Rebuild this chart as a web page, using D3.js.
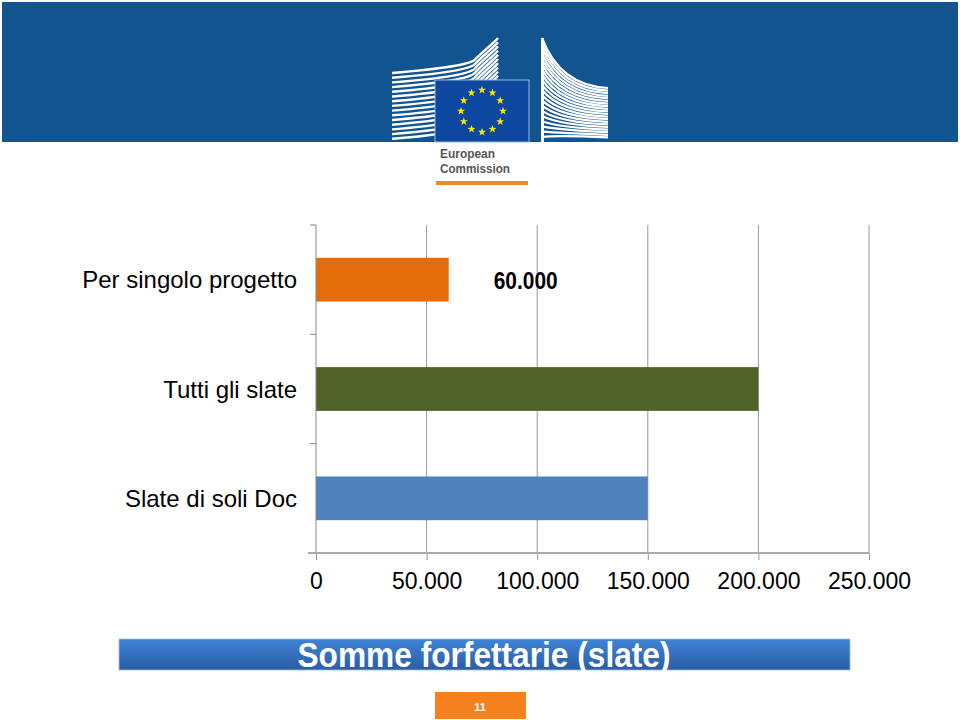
<!DOCTYPE html>
<html>
<head>
<meta charset="utf-8">
<script src="https://cdn.jsdelivr.net/npm/d3@7"></script>
<style>
  html, body { margin: 0; padding: 0; background: #fff; }
  svg { display: block; }
</style>
</head>
<body>
<svg id="chart" width="960" height="720"></svg>
<script>
// ---- data ----
const categories = ["Per singolo progetto", "Tutti gli slate", "Slate di soli Doc"];
const values = [60000, 200000, 150000];
const labeledBars = [0];
const tickValues = [0, 50000, 100000, 150000, 200000, 250000];
const chartTitle = "Somme forfettarie (slate)";
const pageNumber = "11";

// ---- styles ----
const barColors = ["#e46c0a", "#4f6228", "#4f81bd"];

const it = d3.formatLocale({ decimal: ",", thousands: ".", grouping: [3], currency: ["€", ""] });
const fmt = it.format(",");

const svg = d3.select("#chart");

// ---- header band with logo ----
svg.append("rect").attr("x", 2).attr("y", 2).attr("width", 956).attr("height", 140).attr("fill", "#11548f");

const logo = svg.append("g");
// left building stripes
const leftClip = svg.append("clipPath").attr("id", "lclip");
leftClip.append("rect").attr("x", 392).attr("y", 30).attr("width", 107).attr("height", 112);
const lg = logo.append("g").attr("clip-path", "url(#lclip)");
for (let i = 0; i < 15; i++) {
  const y0 = 73 + i * 4.7;
  const y1 = 38 + i * 4.2;
  lg.append("path")
    .attr("d", `M392,${y0} C430,${y0 - 3} 470,${y0 - 8} 475,${(y0 + y1) / 2 + 4} S495,${y1 + 4} 498,${y1}`)
    .attr("fill", "none").attr("stroke", "#fff").attr("stroke-width", 2.4);
}
// right building stripes
const rightClip = svg.append("clipPath").attr("id", "rclip");
rightClip.append("rect").attr("x", 541).attr("y", 30).attr("width", 68).attr("height", 112);
const rg = logo.append("g").attr("clip-path", "url(#rclip)");
rg.append("rect").attr("x", 541).attr("y", 38).attr("width", 3).attr("height", 104).attr("fill", "#fff");
for (let i = 0; i < 20; i++) {
  const y0 = 38 + i * 5.2;
  const y1 = 88 + i * 2.6;
  rg.append("path")
    .attr("d", `M542,${y0} Q560,${y1 - 2} 608,${y1}`)
    .attr("fill", "none").attr("stroke", "#fff").attr("stroke-width", 2.2);
}
// flag
logo.append("rect").attr("x", 435).attr("y", 80).attr("width", 94).attr("height", 62)
  .attr("fill", "#0d47a0").attr("stroke", "#9ab8dd").attr("stroke-width", 1);
const starPath = (cx, cy, R) => {
  const r = R * 0.4;
  let p = "";
  for (let k = 0; k < 10; k++) {
    const a = -Math.PI / 2 + k * Math.PI / 5;
    const rr = k % 2 === 0 ? R : r;
    p += (k === 0 ? "M" : "L") + (cx + rr * Math.cos(a)).toFixed(2) + "," + (cy + rr * Math.sin(a)).toFixed(2);
  }
  return p + "Z";
};
for (let k = 0; k < 12; k++) {
  const a = k * Math.PI / 6;
  logo.append("path").attr("d", starPath(482 + 21 * Math.sin(a), 111 - 21 * Math.cos(a), 4.2)).attr("fill", "#ffe600");
}
logo.append("text").attr("x", 440).attr("y", 158).text("European")
  .attr("font-family", "Liberation Sans, Arial, sans-serif").attr("font-size", 12.5).attr("font-weight", "bold")
  .attr("fill", "#555").attr("textLength", 55).attr("lengthAdjust", "spacingAndGlyphs");
logo.append("text").attr("x", 440).attr("y", 173).text("Commission")
  .attr("font-family", "Liberation Sans, Arial, sans-serif").attr("font-size", 12.5).attr("font-weight", "bold")
  .attr("fill", "#555").attr("textLength", 70).attr("lengthAdjust", "spacingAndGlyphs");
logo.append("rect").attr("x", 436).attr("y", 181).attr("width", 92).attr("height", 4).attr("fill", "#f08a1c");

// ---- chart ----
const x = d3.scaleLinear().domain([0, 250000]).range([316, 869]);
const y = d3.scaleBand().domain(categories).range([225, 553]).paddingInner(0.6).paddingOuter(0.3);
const plotTop = 225, plotBottom = 553;

// gridlines
svg.append("g").selectAll("line").data(tickValues.slice(1)).join("line")
  .attr("x1", d => x(d)).attr("x2", d => x(d)).attr("y1", plotTop).attr("y2", plotBottom)
  .attr("stroke", "#999").attr("stroke-width", 1);

// bars
svg.append("g").selectAll("rect").data(values).join("rect")
  .attr("x", x(0)).attr("y", (d, i) => y(categories[i]))
  .attr("width", d => x(d) - x(0)).attr("height", y.bandwidth())
  .attr("fill", (d, i) => barColors[i]);

// data label
svg.append("g").selectAll("text").data(labeledBars).join("text")
  .attr("x", i => x(values[i]) + 45).attr("y", i => y(categories[i]) + y.bandwidth() / 2 + 9)
  .text(i => fmt(values[i]))
  .attr("font-family", "Liberation Sans, Arial, sans-serif").attr("font-size", 23).attr("font-weight", "bold")
  .attr("fill", "#000").attr("textLength", 64).attr("lengthAdjust", "spacingAndGlyphs");

// left axis line with ticks at band boundaries
const boundaries = d3.range(categories.length + 1).map(i => plotTop + i * (plotBottom - plotTop) / categories.length);
svg.append("line").attr("x1", 316).attr("x2", 316).attr("y1", plotTop).attr("y2", plotBottom).attr("stroke", "#888").attr("stroke-width", 1);
svg.append("g").selectAll("line").data(boundaries.slice(0, -1)).join("line")
  .attr("x1", 310).attr("x2", 316).attr("y1", d => d).attr("y2", d => d)
  .attr("stroke", "#888").attr("stroke-width", 1);

// category labels
svg.append("g").selectAll("text").data(categories).join("text")
  .attr("x", 297).attr("y", d => y(d) + y.bandwidth() / 2 + 8.5)
  .attr("text-anchor", "end").text(d => d)
  .attr("font-family", "Liberation Sans, Arial, sans-serif").attr("font-size", 24).attr("fill", "#000");

// bottom axis
const xAxis = d3.axisBottom(x).tickValues(tickValues).tickFormat(fmt).tickSize(7).tickPadding(13);
const gx = svg.append("g").attr("transform", `translate(0,${plotBottom})`).call(xAxis);
gx.select(".domain").remove();
gx.selectAll(".tick line").attr("stroke", "#999");
gx.selectAll(".tick text").attr("font-family", "Liberation Sans, Arial, sans-serif").attr("font-size", 23).attr("fill", "#000");
svg.append("line").attr("x1", 308).attr("x2", 869).attr("y1", plotBottom).attr("y2", plotBottom).attr("stroke", "#aaa").attr("stroke-width", 2);

// ---- title banner ----
const defs = svg.append("defs");
const grad = defs.append("linearGradient").attr("id", "bannerGrad").attr("x1", 0).attr("x2", 0).attr("y1", 0).attr("y2", 1);
grad.append("stop").attr("offset", "0%").attr("stop-color", "#3f84d6");
grad.append("stop").attr("offset", "100%").attr("stop-color", "#2a5da6");
svg.append("rect").attr("x", 119).attr("y", 639).attr("width", 731).attr("height", 31)
  .attr("fill", "url(#bannerGrad)").attr("stroke", "#9fbfe6").attr("stroke-width", 0.8);
svg.append("text").attr("x", 484).attr("y", 667).attr("text-anchor", "middle").text(chartTitle)
  .attr("font-family", "Liberation Sans, Arial, sans-serif").attr("font-size", 35).attr("font-weight", "bold")
  .attr("fill", "#fff").attr("textLength", 373).attr("lengthAdjust", "spacingAndGlyphs");

// ---- page number ----
svg.append("rect").attr("x", 435).attr("y", 692).attr("width", 91).attr("height", 27).attr("fill", "#f5821f");
svg.append("text").attr("x", 480).attr("y", 711).attr("text-anchor", "middle").text(pageNumber)
  .attr("font-family", "Liberation Sans, Arial, sans-serif").attr("font-size", 11).attr("font-weight", "bold").attr("fill", "#fff");
</script>
</body>
</html>
